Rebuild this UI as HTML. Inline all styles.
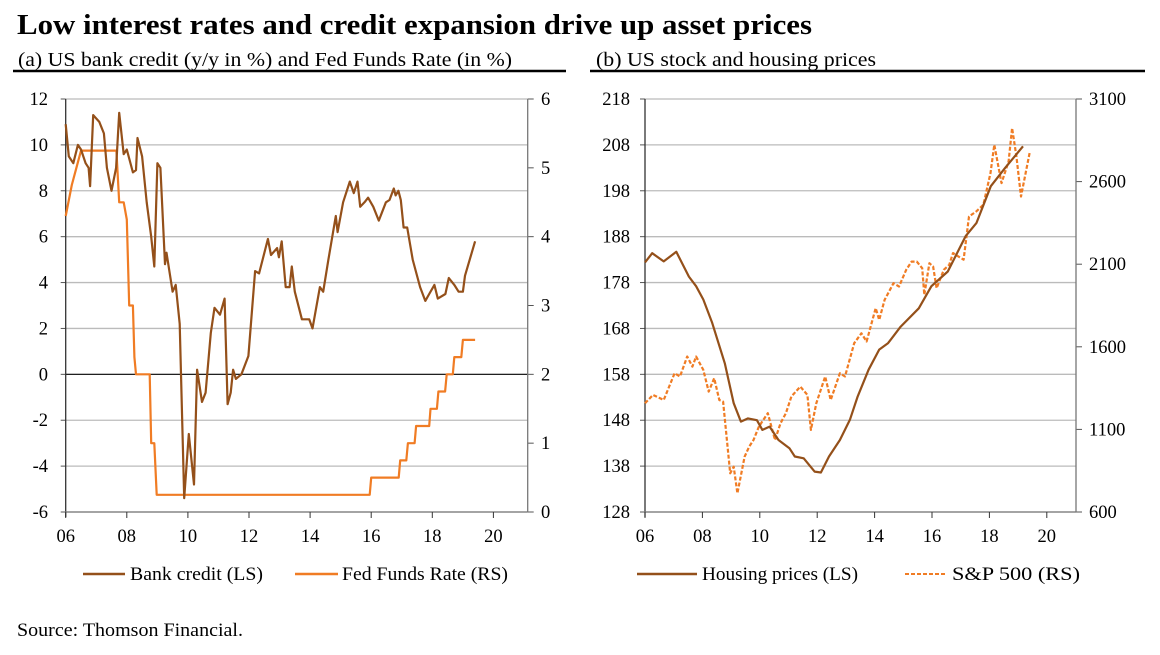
<!DOCTYPE html>
<html><head><meta charset="utf-8"><style>
body{margin:0;background:#fff;width:1160px;height:650px;overflow:hidden;font-family:"Liberation Serif",serif;}
svg text{font-family:"Liberation Serif",serif;}
</style></head><body>
<svg id="s" width="1160" height="650" xmlns="http://www.w3.org/2000/svg">
<text x="17" y="34" font-size="28" font-weight="bold" fill="#000" textLength="795" lengthAdjust="spacingAndGlyphs">Low interest rates and credit expansion drive up asset prices</text>
<text x="18" y="66" font-size="19.5" fill="#000" textLength="494" lengthAdjust="spacingAndGlyphs">(a) US bank credit (y/y in %) and Fed Funds Rate (in %)</text>
<text x="596" y="66" font-size="19.5" fill="#000" textLength="280" lengthAdjust="spacingAndGlyphs">(b) US stock and housing prices</text>
<line x1="13" y1="71" x2="566" y2="71" stroke="#000" stroke-width="2.5"/>
<line x1="590" y1="71" x2="1145" y2="71" stroke="#000" stroke-width="2.5"/>
<g id="L"></g>
<g id="R"></g>
<line x1="83" y1="574" x2="125" y2="574" stroke="#94501a" stroke-width="2.5"/>
<text x="130" y="580" font-size="19" textLength="133" lengthAdjust="spacingAndGlyphs">Bank credit (LS)</text>
<line x1="295" y1="574" x2="338" y2="574" stroke="#f07c24" stroke-width="2.5"/>
<text x="342" y="580" font-size="19" textLength="166" lengthAdjust="spacingAndGlyphs">Fed Funds Rate (RS)</text>
<line x1="637" y1="574" x2="697" y2="574" stroke="#94501a" stroke-width="2.5"/>
<text x="702" y="580" font-size="19" textLength="156" lengthAdjust="spacingAndGlyphs">Housing prices (LS)</text>
<line x1="905" y1="574" x2="946" y2="574" stroke="#f07c24" stroke-width="2" stroke-dasharray="4,2"/>
<text x="952" y="580" font-size="19" textLength="128" lengthAdjust="spacingAndGlyphs">S&amp;P 500 (RS)</text>
<text x="17" y="636" font-size="19" textLength="226" lengthAdjust="spacingAndGlyphs">Source: Thomson Financial.</text>
</svg>
<script>
const xTickLabels=["06","08","10","12","14","16","18","20"];
const xTickYears=[2006,2008,2010,2012,2014,2016,2018,2020];
const leftLTicks=[12,10,8,6,4,2,0,-2,-4,-6];
const leftRTicks=[6,5,4,3,2,1,0];
const rightLTicks=[218,208,198,188,178,168,158,148,138,128];
const rightRTicks=[3100,2600,2100,1600,1100,600];
const bankDates=[2006.0,2006.1,2006.25,2006.4,2006.5,2006.65,2006.75,2006.8,2006.9,2007.1,2007.25,2007.35,2007.5,2007.65,2007.75,2007.9,2008.0,2008.2,2008.3,2008.35,2008.5,2008.65,2008.8,2008.9,2009.0,2009.1,2009.25,2009.3,2009.5,2009.6,2009.73,2009.88,2010.03,2010.2,2010.3,2010.46,2010.58,2010.75,2010.87,2011.05,2011.2,2011.3,2011.4,2011.48,2011.57,2011.75,2011.98,2012.2,2012.33,2012.62,2012.72,2012.92,2012.98,2013.07,2013.2,2013.33,2013.4,2013.5,2013.73,2013.97,2014.08,2014.32,2014.43,2014.6,2014.84,2014.9,2015.08,2015.3,2015.43,2015.55,2015.64,2015.78,2015.9,2016.07,2016.25,2016.48,2016.6,2016.74,2016.8,2016.89,2016.97,2017.06,2017.18,2017.36,2017.6,2017.77,2017.9,2018.07,2018.18,2018.43,2018.54,2018.72,2018.86,2019.0,2019.07,2019.4];
const bankValues=[10.9,9.5,9.2,10.0,9.8,9.2,9.0,8.2,11.3,11.0,10.5,9.0,8.0,9.0,11.4,9.6,9.8,8.8,8.9,10.3,9.5,7.5,6.0,4.7,9.2,9.0,4.8,5.3,3.6,3.9,2.2,-5.4,-2.6,-4.8,0.2,-1.2,-0.8,1.8,2.9,2.6,3.3,-1.3,-0.8,0.2,-0.2,0,0.8,4.5,4.4,5.9,5.2,5.5,5.1,5.8,3.8,3.8,4.7,3.6,2.4,2.4,2.0,3.8,3.6,5.0,6.9,6.2,7.5,8.4,7.9,8.4,7.3,7.5,7.7,7.3,6.7,7.5,7.6,8.1,7.8,8.0,7.6,6.4,6.4,5.0,3.8,3.2,3.5,3.9,3.3,3.5,4.2,3.9,3.6,3.6,4.3,5.8];
const fedDates=[2006.0,2006.2,2006.35,2006.5,2007.66,2007.75,2007.9,2008.0,2008.08,2008.2,2008.25,2008.3,2008.75,2008.8,2008.9,2008.98,2015.95,2016.0,2016.9,2016.95,2017.15,2017.2,2017.42,2017.47,2017.9,2017.94,2018.15,2018.2,2018.42,2018.47,2018.67,2018.72,2018.95,2019.0,2019.4];
const fedValues=[4.3,4.75,5.0,5.25,5.25,4.5,4.5,4.25,3.0,3.0,2.25,2.0,2.0,1.0,1.0,0.25,0.25,0.5,0.5,0.75,0.75,1.0,1.0,1.25,1.25,1.5,1.5,1.75,1.75,2.0,2.0,2.25,2.25,2.5,2.5];
const houseDates=[2006.0,2006.25,2006.65,2007.09,2007.53,2007.78,2008.03,2008.34,2008.78,2009.09,2009.34,2009.59,2009.9,2010.09,2010.34,2010.65,2011.03,2011.22,2011.53,2011.91,2012.13,2012.41,2012.79,2013.14,2013.41,2013.79,2014.16,2014.47,2014.91,2015.54,2015.98,2016.55,2017.17,2017.55,2018.05,2018.55,2019.17];
const houseValues=[182.4,184.4,182.6,184.7,179.3,177.2,174.3,169.2,160.4,151.7,147.7,148.4,148,145.9,146.6,143.7,141.9,140.1,139.7,136.8,136.6,140.1,143.7,148.1,153.2,159,163.4,164.8,168.4,172.4,177.2,180.4,188.1,191,199,203,207.7];
const spDates=[2006.0,2006.28,2006.65,2007.03,2007.22,2007.47,2007.65,2007.78,2008.03,2008.22,2008.41,2008.59,2008.72,2008.97,2009.09,2009.22,2009.47,2009.63,2009.78,2009.97,2010.28,2010.53,2010.72,2010.91,2011.1,2011.41,2011.66,2011.78,2011.97,2012.28,2012.47,2012.79,2012.97,2013.29,2013.54,2013.72,2014.04,2014.16,2014.35,2014.66,2014.85,2015.1,2015.29,2015.47,2015.66,2015.73,2015.91,2016.04,2016.16,2016.41,2016.6,2016.73,2017.1,2017.29,2017.54,2017.79,2018.04,2018.17,2018.42,2018.67,2018.79,2018.94,2019.1,2019.4];
const spValues=[1258,1309,1278,1440,1420,1541,1480,1541,1460,1329,1410,1278,1268,834,874,713,935,996,1036,1117,1198,1036,1137,1198,1299,1359,1309,1097,1258,1420,1278,1440,1420,1622,1682,1632,1834,1763,1884,1985,1965,2066,2116,2116,2076,1915,2106,2086,1955,2066,2096,2167,2127,2389,2419,2460,2652,2823,2591,2722,2924,2753,2510,2773,2924];

const NS='http://www.w3.org/2000/svg';
function mk(parent,tag,attrs){const e=document.createElementNS(NS,tag);for(const k in attrs)e.setAttribute(k,attrs[k]);parent.appendChild(e);return e;}
function panel(g,cfg){
  const xS=y=>cfg.x0+(y-2006)*cfg.pxYr;
  const yL=v=>cfg.top+(cfg.lMax-v)/(cfg.lMax-cfg.lMin)*(cfg.bot-cfg.top);
  const yR=v=>cfg.top+(cfg.rMax-v)/(cfg.rMax-cfg.rMin)*(cfg.bot-cfg.top);
  cfg.lTicks.forEach(t=>{
    const y=yL(t);
    const gl=mk(g,'line',{x1:cfg.x0,x2:cfg.xR,y1:y,y2:y,stroke:(cfg.zero&&t===0)?'#000':'#bbb','stroke-width':(cfg.zero&&t===0)?1.2:1.3});
    
    
    mk(g,'line',{x1:cfg.x0-5,x2:cfg.x0,y1:y,y2:y,stroke:'#555'});
    const tx=mk(g,'text',{x:cfg.lLabX,y:y+6,'font-size':18.5,'text-anchor':'end',fill:'#000'});tx.textContent=t;
    
    
  });
  cfg.rTicks.forEach(t=>{
    const y=yR(t);
    mk(g,'line',{x1:cfg.xR,x2:cfg.xR+6,y1:y,y2:y,stroke:'#555'});
    const tx=mk(g,'text',{x:cfg.rLabX,y:y+6,'font-size':18.5,fill:'#000'});tx.textContent=t;
    
    
  });
  mk(g,'line',{x1:cfg.x0,x2:cfg.x0,y1:cfg.top,y2:cfg.bot+5,stroke:'#333','stroke-width':1.3});
  mk(g,'line',{x1:cfg.xR,x2:cfg.xR,y1:cfg.top,y2:cfg.bot,stroke:'#777','stroke-width':1.3});
  mk(g,'line',{x1:cfg.x0-4,x2:cfg.xR,y1:cfg.bot,y2:cfg.bot,stroke:'#777','stroke-width':1.3});
  xTickYears.forEach((yr,i)=>{
    const x=xS(yr);
    mk(g,'line',{x1:x,x2:x,y1:cfg.bot,y2:cfg.bot+6,stroke:'#333'});
    const tx=mk(g,'text',{x:x,y:cfg.bot+30,'font-size':18.5,'text-anchor':'middle',fill:'#000'});tx.textContent=xTickLabels[i];
    
    
  });
  cfg.series.forEach(s=>{
    const sc=s.axis==='L'?yL:yR;
    const d=s.dates.map((t,i)=>(i?'L':'M')+xS(t).toFixed(1)+','+sc(s.values[i]).toFixed(1)).join('');
    const p=mk(g,'path',{d:d,fill:'none',stroke:s.color,'stroke-width':2.2,'stroke-linejoin':'round'});
    if(s.dash)p.setAttribute('stroke-dasharray',s.dash);
    
    
  });
}
panel(document.getElementById('L'),{x0:65.7,pxYr:30.55,xR:527.7,top:99,bot:512,lMax:12,lMin:-6,rMax:6,rMin:0,lTicks:leftLTicks,rTicks:leftRTicks,lLabX:48,rLabX:541,zero:true,
  series:[{dates:fedDates,values:fedValues,axis:'R',color:'#f07c24',name:'fed-funds-line'},{dates:bankDates,values:bankValues,axis:'L',color:'#94501a',name:'bank-credit-line'}]});
panel(document.getElementById('R'),{x0:645,pxYr:28.7,xR:1076,top:99,bot:512,lMax:218,lMin:128,rMax:3100,rMin:600,lTicks:rightLTicks,rTicks:rightRTicks,lLabX:630,rLabX:1089,zero:false,
  series:[{dates:spDates,values:spValues,axis:'R',color:'#f07c24',dash:'4,2',name:'sp500-line'},{dates:houseDates,values:houseValues,axis:'L',color:'#94501a',name:'housing-prices-line'}]});
</script>
</body></html>
